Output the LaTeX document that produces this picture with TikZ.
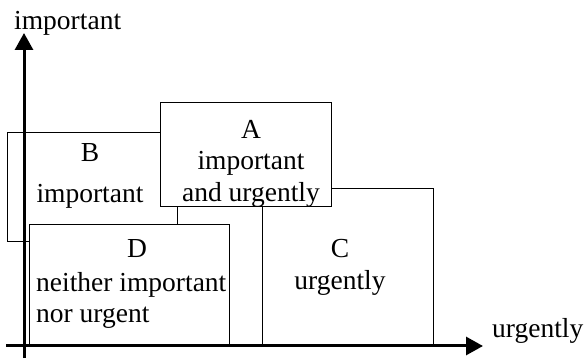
\documentclass[tikz,border=0pt]{standalone}
\usepackage{fontspec}
\setmainfont{Liberation Serif}
\usetikzlibrary{positioning,arrows.meta}

\begin{document}
\begin{tikzpicture}[x=1pt, y=1pt,
                quadbox/.style={rectangle, draw=black, fill=white, line width=1.2pt, anchor=south west, inner sep=0pt},
                axis/.style={line width=3pt, -{Triangle[width=18pt, length=17pt]}},
                txt/.style={anchor=base, inner sep=0pt, font=\fontsize{27.5}{32}\selectfont},
            ]
            \useasboundingbox (0,0) rectangle (584,359);

            % quadrants
            \node[quadbox, minimum width=170, minimum height=109] (boxB) at (7,117)  {};
            \node[quadbox, minimum width=171, minimum height=157] (boxC) at (262,13) {};
            \node[quadbox, minimum width=171, minimum height=104] (boxA) at (160,152) {};
            \node[quadbox, minimum width=200, minimum height=121] (boxD) at (29,13)  {};

            \node[txt] (labB)  at (90,197)  {B};
            \node[txt] (txtB)  at (90,156)  {important};
            \node[txt] (labA)  at (251,220) {A};
            \node[txt] (txtA1) at (251,189) {important};
            \node[txt] (txtA2) at (251,157) {and urgently};
            \node[txt] (labC)  at (340,101) {C};
            \node[txt] (txtC)  at (340,69)  {urgently};
            \node[txt] (labD)  at (137,101) {D};
            \node[txt, anchor=base west] (txtD1) at (36,67) {neither important};
            \node[txt, anchor=base west] (txtD2) at (36,36) {nor urgent};

            % axes
            \coordinate (ybot)   at (24,1);
            \coordinate (ytop)   at (24,326);
            \coordinate (xleft)  at (6,13);
            \coordinate (xright) at (483,13);
            \draw[axis] (ybot) -- (ytop);
            \draw[axis] (xleft) -- (xright);
            \node[txt, anchor=base west] (imp) at (14,329) {important};
            \node[txt, anchor=base west] (urg) at (492,21)  {urgently};
        \end{tikzpicture}
\end{document}
